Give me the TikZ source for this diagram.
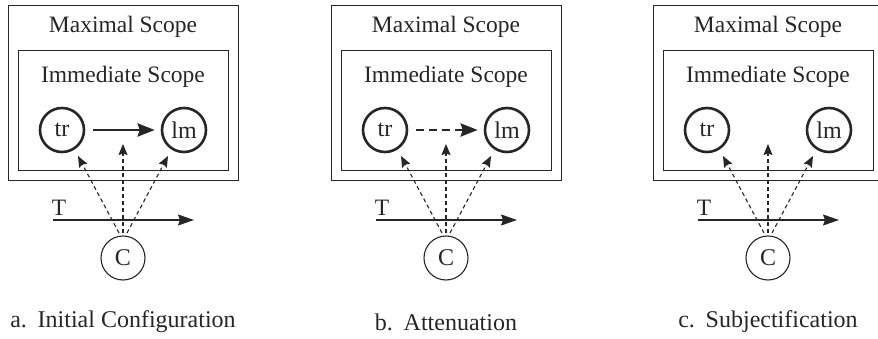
\documentclass[tikz,border=0pt]{standalone}
\usepackage{fontspec}
\setmainfont{Liberation Serif}
\usetikzlibrary{arrows.meta,calc}
\definecolor{ink}{HTML}{262626}
\begin{document}
\begin{tikzpicture}[x=1pt,y=-1pt,
  box/.style={draw=ink,line width=1.4pt,anchor=north west,inner sep=0pt},
  lbl/.style={font=\fontsize{23.5}{26}\selectfont,text=ink,inner sep=0pt},
  captionlbl/.style={font=\fontsize{24}{28}\selectfont,text=ink,inner sep=0pt},
  obj/.style={circle,draw=ink,line width=2.6pt,minimum size=44pt,inner sep=0pt,font=\fontsize{24}{26}\selectfont,text=ink},
  conc/.style={circle,draw=ink,line width=1.1pt,minimum size=44pt,inner sep=0pt,font=\fontsize{24}{26}\selectfont,text=ink},
  solidarr/.style={draw=ink,line width=2.7pt,-{Stealth[length=17pt,width=13pt,inset=2pt]}},
  dasharr/.style={draw=ink,line width=2.7pt,dash pattern=on 8pt off 5pt,-{Stealth[length=17pt,width=13pt,inset=2pt]}},
  viewarr/.style={draw=ink,line width=1.1pt,dash pattern=on 4pt off 3pt,-{Stealth[length=11pt,width=9pt,inset=1.5pt]}},
  timearr/.style={draw=ink,line width=1.4pt,-{Stealth[length=16pt,width=11pt,inset=2pt]}}
]
\path[use as bounding box,clip] (0,0) rectangle (878,339);
\foreach \s/\dx/\captext in {a/0/{a.\hspace{0.45em}Initial Configuration},b/323/{b.\hspace{0.45em}Attenuation},c/645/{c.\hspace{0.45em}Subjectification}}{
  \begin{scope}[xshift=\dx pt]
    \node[box,minimum width=230pt,minimum height=175pt] (max\s) at (8,5) {};
    \node[box,minimum width=210pt,minimum height=120pt] (imm\s) at (18,50) {};
    \node[lbl] (maxl\s) at (123,27) {Maximal Scope};
    \node[lbl] (imml\s) at (123,77) {Immediate Scope};
    \node[obj] (tr\s) at (62,130) {tr};
    \node[obj] (lm\s) at (184,130) {lm};
    \node[conc] (C\s) at (123,258) {C};
    \coordinate (Tl\s) at (53,220);
    \coordinate (Tr\s) at (194,220);
    \draw[timearr] (Tl\s) -- (Tr\s);
    \node[lbl,anchor=base] (T\s) at (59,215) {T};
    \coordinate (s1\s) at (119,233);
    \coordinate (s2\s) at (123,233);
    \coordinate (s3\s) at (127,233);
    \coordinate (e1\s) at (78,156);
    \coordinate (e2\s) at (123,144);
    \coordinate (e3\s) at (168,156);
    \draw[viewarr] (s1\s) -- (e1\s);
    \draw[viewarr] (s2\s) -- (e2\s);
    \draw[viewarr] (s3\s) -- (e3\s);
    \node[captionlbl] (cap\s) at (123,322) {\captext};
  \end{scope}
}
\draw[solidarr,shorten <=8pt,shorten >=6pt] (tra) -- (lma);
\draw[dasharr,shorten <=8pt,shorten >=6pt] (trb) -- (lmb);
\end{tikzpicture}
\end{document}
